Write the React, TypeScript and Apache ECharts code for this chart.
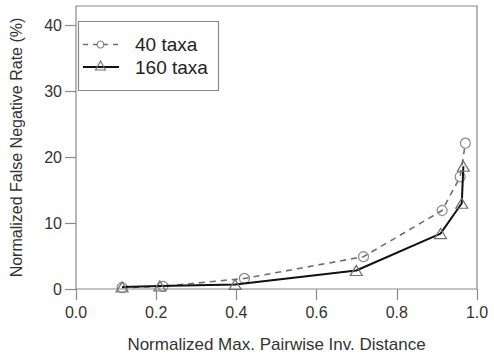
import React, { useEffect, useRef } from "react";
import * as echarts from "echarts";

const xTicks = [0, 0.2, 0.4, 0.6, 0.8, 1.0];
const yTicks = [0, 10, 20, 30, 40];

const x40 = [0.115, 0.217, 0.42, 0.717, 0.913, 0.958, 0.971];
const y40 = [0.2, 0.4, 1.6, 4.9, 11.9, 17.0, 22.1];

const x160 = [0.115, 0.209, 0.397, 0.699, 0.909, 0.962, 0.966];
const y160 = [0.3, 0.45, 0.7, 2.8, 8.4, 13.0, 18.6];

const legendNames = ["40 taxa", "160 taxa"];
const xTitle = "Normalized Max. Pairwise Inv. Distance";
const yTitle = "Normalized False Negative Rate (%)";

const FONT = "Liberation Sans, Arial, Helvetica, sans-serif";

export default function App() {
  const ref = useRef<HTMLDivElement>(null);
  useEffect(() => {
    if (!ref.current) return;
    const chart = echarts.init(ref.current, undefined, { renderer: "svg" });
    const d40 = x40.map((x, i) => [x, y40[i]]);
    const d160 = x160.map((x, i) => [x, y160[i]]);
    chart.setOption({
      animation: false,
      backgroundColor: "#ffffff",
      textStyle: { fontFamily: FONT },
      grid: {
        left: 70,
        right: 17,
        top: 6,
        bottom: 71,
        show: true,
        borderColor: "#8a8a8a",
        borderWidth: 1.2,
        containLabel: false,
      },
      xAxis: {
        type: "value",
        min: 0,
        max: 1,
        interval: 0.2,
        name: xTitle,
        nameLocation: "middle",
        nameGap: 47,
        nameTextStyle: { fontSize: 17, color: "#333", fontFamily: FONT },
        axisLine: { show: false },
        splitLine: { show: false },
        axisTick: {
          show: true,
          inside: false,
          length: 11,
          lineStyle: { color: "#8a8a8a", width: 1.2 },
          customValues: xTicks,
        },
        axisLabel: {
          fontSize: 16,
          color: "#333",
          margin: 15,
          fontFamily: FONT,
          customValues: xTicks,
          formatter: (v: number) => v.toFixed(1),
        },
      },
      yAxis: {
        type: "value",
        min: 0,
        max: 42.9,
        name: yTitle,
        nameLocation: "middle",
        nameGap: 52,
        nameTextStyle: { fontSize: 16, color: "#333", fontFamily: FONT },
        axisLine: { show: false },
        splitLine: { show: false },
        axisTick: {
          show: true,
          inside: false,
          length: 11,
          lineStyle: { color: "#8a8a8a", width: 1.2 },
          customValues: yTicks,
        },
        axisLabel: {
          fontSize: 16,
          color: "#333",
          margin: 14,
          fontFamily: FONT,
          customValues: yTicks,
        },
      },
      series: [
        {
          name: legendNames[0],
          type: "line",
          data: d40,
          symbol: "circle",
          symbolSize: 10,
          showAllSymbol: true,
          lineStyle: { color: "#6e6e6e", width: 1.6, type: [6, 5] },
          itemStyle: { color: "rgba(0,0,0,0)", borderColor: "#8a8a8a", borderWidth: 1.2 },
          z: 2,
        },
        {
          name: legendNames[1],
          type: "line",
          data: d160,
          symbol: "triangle",
          symbolSize: [12, 10],
          showAllSymbol: true,
          lineStyle: { color: "#111111", width: 2 },
          itemStyle: { color: "rgba(0,0,0,0)", borderColor: "#707070", borderWidth: 1.2 },
          z: 3,
        },
      ],
      graphic: [
        {
          type: "rect",
          shape: { x: 78.5, y: 21.5, width: 140, height: 69 },
          style: { fill: "#fff", stroke: "#8a8a8a", lineWidth: 1.2 },
          z: 10,
        },
        {
          type: "line",
          shape: { x1: 83, y1: 44.5, x2: 118, y2: 44.5 },
          style: { stroke: "#6e6e6e", lineWidth: 1.6, lineDash: [5, 5], lineDashOffset: 0 },
          z: 11,
        },
        {
          type: "circle",
          shape: { cx: 100.5, cy: 44.5, r: 3.5 },
          style: { fill: "none", stroke: "#8a8a8a", lineWidth: 1.1 },
          z: 12,
        },
        {
          type: "text",
          style: {
            text: legendNames[0],
            x: 135,
            y: 44.5,
            fontSize: 19,
            fontFamily: FONT,
            fill: "#222",
            verticalAlign: "middle",
          },
          z: 12,
        },
        {
          type: "line",
          shape: { x1: 83, y1: 67, x2: 119, y2: 67 },
          style: { stroke: "#111", lineWidth: 2 },
          z: 11,
        },
        {
          type: "polygon",
          shape: { points: [[100.5, 61], [95.5, 70], [105.5, 70]] },
          style: { fill: "none", stroke: "#707070", lineWidth: 1.1 },
          z: 12,
        },
        {
          type: "text",
          style: {
            text: legendNames[1],
            x: 135,
            y: 67.5,
            fontSize: 19,
            fontFamily: FONT,
            fill: "#222",
            verticalAlign: "middle",
          },
          z: 12,
        },
      ],
    });
    return () => chart.dispose();
  }, []);
  return <div ref={ref} style={{ width: 494, height: 360, position: "absolute", left: 0, top: 0 }} />;
}
